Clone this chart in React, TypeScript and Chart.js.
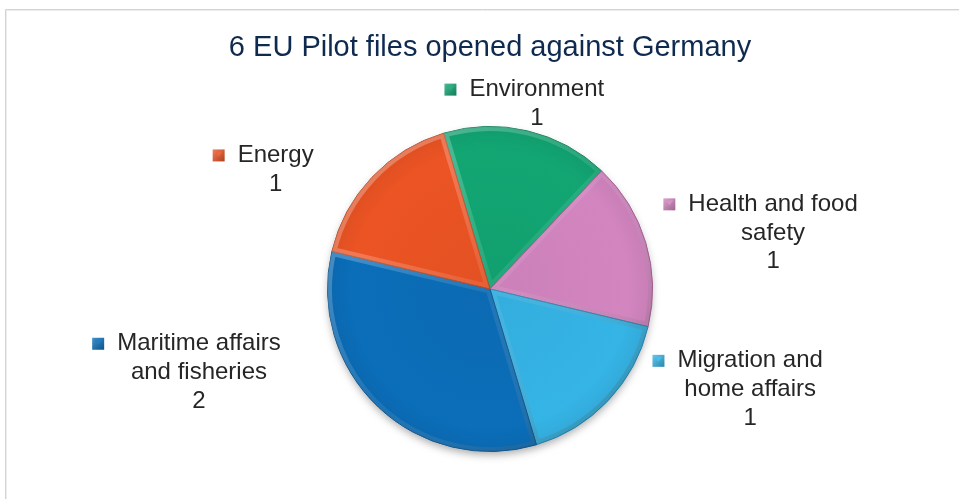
import React, { useEffect, useRef } from "react";
import { Chart, registerables } from "chart.js";

Chart.register(...registerables);

const titleText = "6 EU Pilot files opened against Germany";
const categories = [
  "Environment",
  "Health and food safety",
  "Migration and home affairs",
  "Maritime affairs and fisheries",
  "Energy",
];
const labelLines = [
  ["Environment"],
  ["Health and food", "safety"],
  ["Migration and", "home affairs"],
  ["Maritime affairs", "and fisheries"],
  ["Energy"],
];
const values = [1, 1, 1, 2, 1];
const colors = ["#12a673", "#d385c0", "#35b4e6", "#0b6eb9", "#ec5424"];
const edgeColors = ["#0a7a52", "#a0568f", "#1f86b3", "#074f87", "#b53a14"];
// label anchor (first text line centre) relative to pie centre, in radius units
const labelOffsets = [
  [0.288, -1.227],
  [1.742, -0.521],
  [1.601, 0.442],
  [-1.791, 0.337],
  [-1.319, -0.822],
];

const FONT = "'Liberation Sans', Arial, sans-serif";

function shade(hex: string, f: number) {
  const n = parseInt(hex.slice(1), 16);
  let r = (n >> 16) & 255, g = (n >> 8) & 255, b = n & 255;
  const mix = (c: number) =>
    f >= 0 ? Math.round(c + (255 - c) * f) : Math.round(c * (1 + f));
  return `rgb(${mix(r)},${mix(g)},${mix(b)})`;
}

function arcPath(ctx: CanvasRenderingContext2D, x: number, y: number, r: number, s: number, e: number) {
  ctx.beginPath();
  ctx.moveTo(x, y);
  ctx.arc(x, y, r, s, e);
  ctx.closePath();
}

const decorPlugin = {
  id: "decor",
  beforeDraw(chart: any) {
    const ctx = chart.ctx;
    ctx.save();
    ctx.fillStyle = "#ffffff";
    ctx.fillRect(0, 0, chart.width, chart.height);
    ctx.strokeStyle = "#d4d4d4";
    ctx.lineWidth = 1;
    ctx.beginPath();
    ctx.moveTo(5.5, chart.height);
    ctx.lineTo(5.5, 9.5);
    ctx.lineTo(chart.width, 9.5);
    ctx.stroke();
    ctx.strokeStyle = "#ececec";
    ctx.beginPath();
    ctx.moveTo(6.5, chart.height);
    ctx.lineTo(6.5, 10.5);
    ctx.lineTo(chart.width, 10.5);
    ctx.stroke();
    ctx.fillStyle = "#0f2a4f";
    ctx.font = `29px ${FONT}`;
    ctx.textAlign = "center";
    ctx.textBaseline = "middle";
    ctx.fillText(titleText, 490, 48);
    ctx.restore();
  },
  beforeDatasetsDraw(chart: any) {
    const meta = chart.getDatasetMeta(0);
    const arc = meta.data[0];
    if (!arc) return;
    const { x, y, outerRadius } = arc.getProps(["x", "y", "outerRadius"], true);
    const ctx = chart.ctx;
    ctx.save();
    ctx.shadowColor = "rgba(0,0,0,0.35)";
    ctx.shadowBlur = 8;
    ctx.shadowOffsetY = 4;
    ctx.fillStyle = "#555";
    ctx.beginPath();
    ctx.arc(x, y, outerRadius - 1, 0, Math.PI * 2);
    ctx.fill();
    ctx.restore();
  },
  afterDatasetsDraw(chart: any) {
    const meta = chart.getDatasetMeta(0);
    const ctx = chart.ctx;
    ctx.save();
    // bevel on each slice
    meta.data.forEach((arc: any) => {
      const { x, y, outerRadius, startAngle, endAngle } = arc.getProps(
        ["x", "y", "outerRadius", "startAngle", "endAngle"], true);
      ctx.save();
      arcPath(ctx, x, y, outerRadius, startAngle, endAngle);
      ctx.clip();
      const g = ctx.createLinearGradient(x - outerRadius, y - outerRadius, x + outerRadius, y + outerRadius);
      g.addColorStop(0, "rgba(255,255,255,0.35)");
      g.addColorStop(0.5, "rgba(255,255,255,0.08)");
      g.addColorStop(1, "rgba(0,0,0,0.25)");
      ctx.strokeStyle = g;
      ctx.lineWidth = 9;
      ctx.lineJoin = "round";
      arcPath(ctx, x, y, outerRadius, startAngle, endAngle);
      ctx.stroke();
      ctx.restore();
    });
    // labels
    meta.data.forEach((arc: any, i: number) => {
      const { x, y, outerRadius } = arc.getProps(["x", "y", "outerRadius"], true);
      const [ox, oy] = labelOffsets[i];
      const cx = x + ox * outerRadius;
      const cy = y + oy * outerRadius;
      ctx.font = `24px ${FONT}`;
      ctx.textAlign = "center";
      ctx.textBaseline = "middle";
      ctx.fillStyle = "#262626";
      const lines = [...labelLines[i], String(values[i])];
      lines.forEach((ln, k) => ctx.fillText(ln, cx, cy + k * 28.7));
      const w = ctx.measureText(labelLines[i][0]).width;
      const mx = cx - w / 2 - 25;
      const my = cy - 6;
      const g = ctx.createLinearGradient(mx, my, mx + 12, my + 12);
      g.addColorStop(0, shade(colors[i], 0.25));
      g.addColorStop(1, shade(colors[i], -0.25));
      ctx.fillStyle = g;
      ctx.fillRect(mx, my, 12, 12);
      ctx.fillStyle = shade(colors[i], 0.1);
      ctx.beginPath();
      ctx.moveTo(mx + 2, my + 2);
      ctx.lineTo(mx + 10, my + 2);
      ctx.lineTo(mx + 6, my + 7);
      ctx.closePath();
      ctx.fill();
    });
    ctx.restore();
  },
};

export default function App() {
  const ref = useRef<HTMLCanvasElement>(null);
  useEffect(() => {
    if (!ref.current) return;
    const chart = new Chart(ref.current, {
      type: "pie",
      data: {
        labels: categories,
        datasets: [
          {
            data: values,
            backgroundColor: (c: any) => {
              const area = c.chart.chartArea;
              if (!area) return colors[c.dataIndex];
              const cx = (area.left + area.right) / 2;
              const cy = (area.top + area.bottom) / 2;
              const r = Math.min(area.width, area.height) / 2;
              const g = c.chart.ctx.createRadialGradient(cx, cy, 0, cx, cy, r);
              const base = colors[c.dataIndex];
              g.addColorStop(0, shade(base, -0.04));
              g.addColorStop(0.85, base);
              g.addColorStop(1, shade(base, -0.06));
              return g;
            },
            borderColor: edgeColors,
            borderWidth: 1,
            hoverOffset: 0,
          },
        ],
      },
      options: {
        responsive: false,
        animation: false,
        events: [],
        rotation: -16.6,
        layout: { padding: { top: 126, bottom: 47, left: 100, right: 79 } },
        plugins: {
          legend: { display: false },
          tooltip: { enabled: false },
          title: { display: false },
        },
      },
      plugins: [decorPlugin],
    });
    return () => chart.destroy();
  }, []);
  return (
    <div style={{ position: "absolute", left: 0, top: 0, width: 959, height: 499 }}>
      <canvas ref={ref} width={959} height={499} style={{ width: 959, height: 499, display: "block" }} />
    </div>
  );
}
